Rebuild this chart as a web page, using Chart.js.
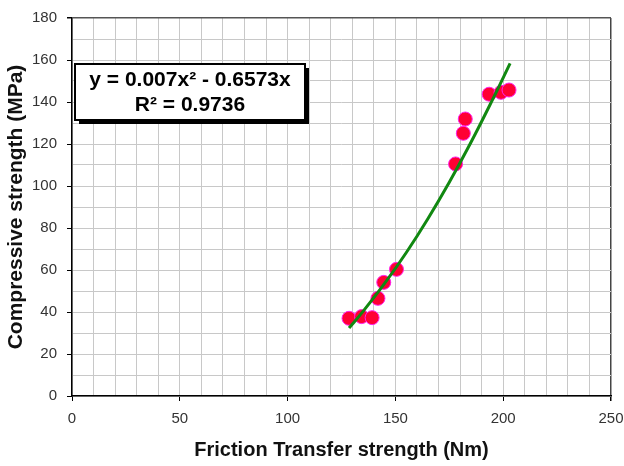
<!DOCTYPE html>
<html>
<head>
<meta charset="utf-8">
<script src="https://cdn.jsdelivr.net/npm/chart.js@4.4.0/dist/chart.umd.min.js"></script>
<style>
  html, body { margin: 0; padding: 0; background: #fff; }
  #wrap { width: 624px; height: 466px; }
</style>
</head>
<body>
<div id="wrap"><canvas id="myChart" width="624" height="466"></canvas></div>
<script>
  // measured points
  var frictionX = [128.5, 134.3, 139.2, 141.9, 144.6, 150.5, 177.9, 181.5, 182.4, 193.5, 199.0, 202.7];
  var compressY = [37.0, 37.8, 37.3, 46.5, 54.1, 60.3, 110.5, 125.1, 131.9, 143.7, 144.6, 145.7];

  // trend line
  var trendX = [128.5, 135, 145, 155, 165, 175, 185, 195, 203.2];
  var trendY = [32.4, 40.3, 53.6, 68.2, 84.3, 101.8, 120.7, 141.0, 158.4];

  var eqLine1 = 'y = 0.007x\u00B2 - 0.6573x';
  var eqLine2 = 'R\u00B2 = 0.9736';

  // equation box with shadow
  var eqBox = {
    id: 'eqBox',
    afterDraw: function(chart) {
      var c = chart.ctx;
      var x = 75, y = 64, w = 230, h = 56;
      c.save();
      c.fillStyle = '#000';
      c.fillRect(x + 4, y + 4, w, h);
      c.fillStyle = '#fff';
      c.fillRect(x, y, w, h);
      c.lineWidth = 2;
      c.strokeStyle = '#000';
      c.strokeRect(x, y, w, h);
      c.fillStyle = '#000';
      c.font = 'bold 21px "Liberation Sans", Arial, sans-serif';
      c.textAlign = 'center';
      c.textBaseline = 'middle';
      c.fillText(eqLine1, x + w / 2, y + 16);
      c.fillText(eqLine2, x + w / 2, y + 41);
      c.restore();
    }
  };

  function tickColorEvery(step) {
    return function(ctx) {
      return ctx.tick && ctx.tick.value % step === 0 ? '#000' : 'rgba(0,0,0,0)';
    };
  }

  var ctx = document.getElementById('myChart').getContext('2d');
  var myChart = new Chart(ctx, {
    type: 'scatter',
    data: {
      datasets: [{
        type: 'line',
        label: 'Trend',
        data: trendX.map((v, i) => ({ x: v, y: trendY[i] })),
        borderColor: '#118811',
        borderWidth: 3,
        pointRadius: 0,
        tension: 0.4,
        fill: false,
        order: 0
      }, {
        label: 'Data',
        data: frictionX.map((v, i) => ({ x: v, y: compressY[i] })),
        backgroundColor: '#ff0033',
        borderColor: '#ff22ee',
        borderWidth: 1,
        pointRadius: 7,
        order: 1
      }]
    },
    options: {
      responsive: false,
      animation: false,
      layout: { padding: { top: 18, right: 13, left: 0, bottom: 0 } },
      plugins: { legend: { display: false }, tooltip: { enabled: false } },
      scales: {
        x: {
          type: 'linear',
          min: 0, max: 250,
          afterFit: function(s) { s.height = 70; s.paddingRight = 0; s.paddingLeft = 0; },
          ticks: {
            stepSize: 10,
            autoSkip: false,
            maxRotation: 0,
            color: '#333',
            font: { family: '"Liberation Sans", Arial', size: 15 },
            padding: 9,
            callback: function(v) { return v % 50 === 0 ? v : ''; }
          },
          grid: {
            color: function(c) { return c.tick && c.tick.value === 250 ? '#444' : '#c8c8c8'; },
            lineWidth: function(c) { return c.tick && c.tick.value === 250 ? 1.5 : 1; },
            tickLength: 5,
            tickColor: tickColorEvery(50)
          },
          border: { color: '#000', width: 1.5 },
          title: {
            display: true,
            text: 'Friction Transfer strength (Nm)',
            color: '#111',
            font: { family: '"Liberation Sans", Arial', size: 20, weight: 'bold' },
            padding: { top: 6 }
          }
        },
        y: {
          min: 0, max: 180,
          afterFit: function(s) { s.width = 72; s.paddingTop = 0; s.paddingBottom = 0; },
          ticks: {
            stepSize: 10,
            autoSkip: false,
            color: '#333',
            font: { family: '"Liberation Sans", Arial', size: 15 },
            padding: 10,
            callback: function(v) { return v % 20 === 0 ? v : ''; }
          },
          grid: {
            color: function(c) { return c.tick && c.tick.value === 180 ? '#555' : '#c8c8c8'; },
            lineWidth: function(c) { return c.tick && c.tick.value === 180 ? 1.5 : 1; },
            tickLength: 5,
            tickColor: tickColorEvery(20)
          },
          border: { color: '#000', width: 1.5 },
          title: {
            display: true,
            text: 'Compressive strength (MPa)',
            color: '#111',
            font: { family: '"Liberation Sans", Arial', size: 21, weight: 'bold' },
            padding: { bottom: 0 }
          }
        }
      }
    },
    plugins: [eqBox]
  });
</script>
</body>
</html>
